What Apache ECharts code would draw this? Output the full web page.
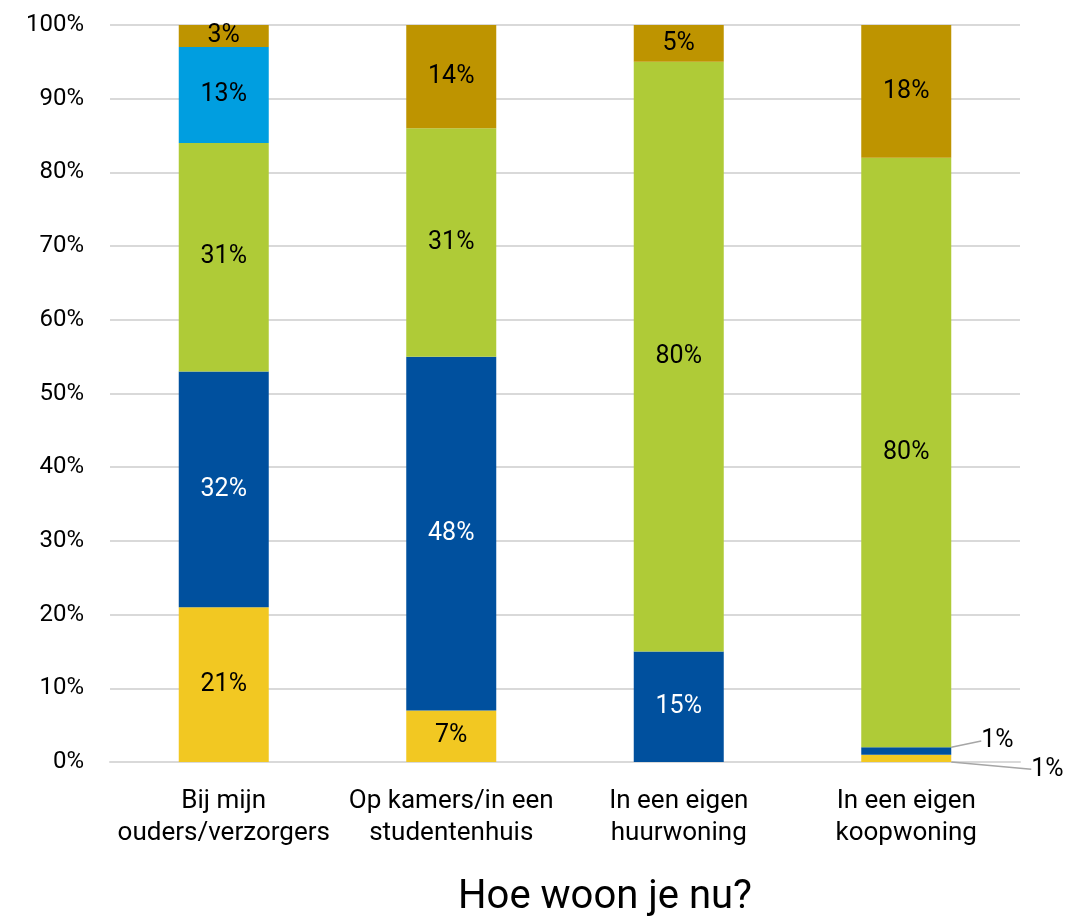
<!DOCTYPE html>
<html>
<head>
<meta charset="utf-8">
<script src="https://cdn.jsdelivr.net/npm/echarts@6/dist/echarts.min.js"></script>
<style>
  html, body { margin: 0; padding: 0; background: #fff; }
  #chart { width: 1077px; height: 920px; }
</style>
</head>
<body>
<div id="chart"></div>
<script>
const categories = [
  "Bij mijn\nouders/verzorgers",
  "Op kamers/in een\nstudentenhuis",
  "In een eigen\nhuurwoning",
  "In een eigen\nkoopwoning"
];
// stacked from bottom to top
const yellowVals = [21, 7, 0, 1];
const darkBlueVals = [32, 48, 15, 1];
const greenVals = [31, 31, 80, 80];
const lightBlueVals = [13, 0, 0, 0];
const goldVals = [3, 14, 5, 18];
const yTicks = [0, 10, 20, 30, 40, 50, 60, 70, 80, 90, 100];

const colors = ["#F2C822", "#00509E", "#AFCB37", "#009EE0", "#BE9400"];
const fontFamily = "Roboto, 'Noto Sans', sans-serif";

const chart = echarts.init(document.getElementById("chart"));

function makeSeries(name, vals, color, textColor, outside) {
  return {
    name: name,
    type: "bar",
    stack: "total",
    barWidth: 90,
    itemStyle: { color: color },
    label: {
      show: true,
      position: "inside",
      color: textColor,
      fontSize: 25,
      fontFamily: fontFamily,
      formatter: function (p) {
        return p.value > 0 ? p.value + "%" : "";
      }
    },
    labelLine: {
      show: false,
      lineStyle: { color: "#A6A6A6", width: 1.5 }
    },
    labelLayout: function (p) {
      if (outside && p.dataIndex === 3) {
        return {
          x: p.rect.x + p.rect.width + outside.dx,
          y: p.rect.y + p.rect.height / 2 + outside.dy,
          align: "left",
          verticalAlign: "middle"
        };
      }
      return {};
    },
    data: vals.map(function (v, i) {
      if (outside && i === 3) {
        return {
          value: v,
          label: { color: "#000" },
          labelLine: { show: true }
        };
      }
      return v;
    })
  };
}

chart.setOption({
  animation: false,
  grid: { left: 110, right: 57, top: 25, bottom: 158, outerBoundsMode: "none", containLabel: false },
  xAxis: {
    type: "category",
    data: categories,
    name: "Hoe woon je nu?",
    nameLocation: "middle",
    nameGap: 116,
    nameTextStyle: { fontSize: 40, color: "#000", fontFamily: fontFamily, padding: [0, 0, 0, 80] },
    axisLine: { lineStyle: { color: "#D9D9D9", width: 2 } },
    axisTick: { show: false },
    axisLabel: {
      interval: 0,
      color: "#000",
      fontSize: 26,
      lineHeight: 32,
      margin: 23,
      fontFamily: fontFamily
    }
  },
  yAxis: {
    type: "value",
    min: yTicks[0],
    max: yTicks[yTicks.length - 1],
    interval: 10,
    axisLine: { show: false },
    axisTick: { show: false },
    splitLine: { lineStyle: { color: "#D9D9D9", width: 2 } },
    axisLabel: {
      color: "#000",
      fontSize: 24,
      margin: 26,
      fontFamily: fontFamily,
      formatter: "{value}%"
    }
  },
  series: [
    makeSeries("yellow", yellowVals, colors[0], "#000", { dx: 80, dy: 11 }),
    makeSeries("darkblue", darkBlueVals, colors[1], "#fff", { dx: 30, dy: -10 }),
    makeSeries("green", greenVals, colors[2], "#000"),
    makeSeries("lightblue", lightBlueVals, colors[3], "#000"),
    makeSeries("gold", goldVals, colors[4], "#000")
  ]
});
</script>
</body>
</html>
